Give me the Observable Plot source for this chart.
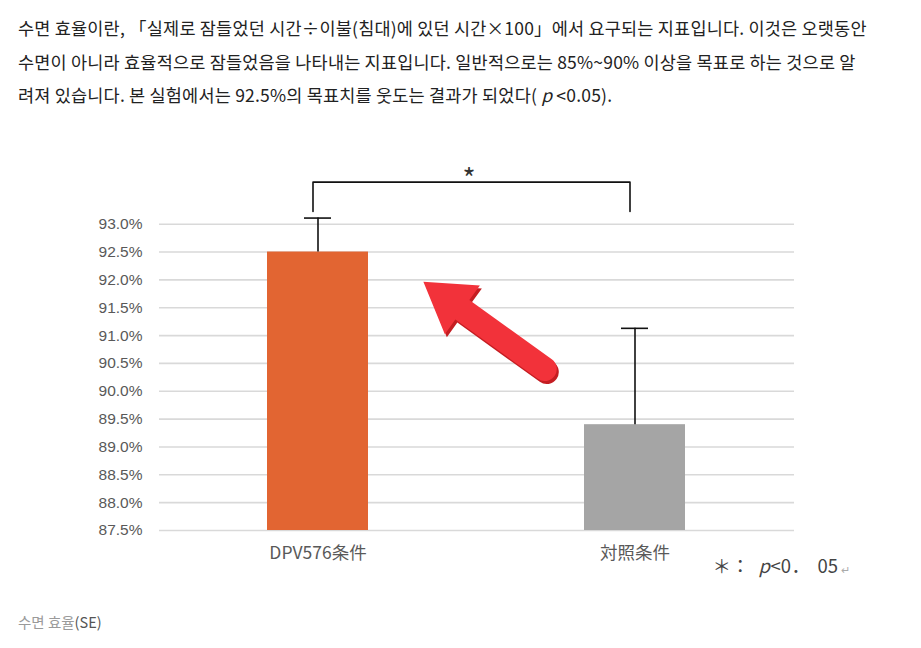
<!DOCTYPE html>
<html>
<head>
<meta charset="utf-8">
<script src="https://cdn.jsdelivr.net/npm/d3@7"></script>
<script src="https://cdn.jsdelivr.net/npm/@observablehq/plot@0.6"></script>
<style>
  html, body { margin: 0; padding: 0; background: #fff; width: 921px; height: 648px; overflow: hidden; }
  #title { position: absolute; left: 18px; top: 11px; font-family: "Noto Sans CJK KR", "Noto Sans", sans-serif; font-size: 17.5px; letter-spacing: 0.2px; line-height: 33.5px; color: #222; white-space: nowrap; }
  #chart { position: absolute; left: 0; top: 120px; }
  #caption { position: absolute; left: 18px; top: 611px; font-family: "Noto Sans CJK KR", "Noto Sans", sans-serif; font-size: 14.5px; color: #9a9a9a; }
  #caption span { color: #555; }
</style>
</head>
<body>
<div id="title">수면 효율이란, 「실제로 잠들었던 시간÷이불(침대)에 있던 시간×100」에서 요구되는 지표입니다. 이것은 오랫동안<br>수면이 아니라 효율적으로 잠들었음을 나타내는 지표입니다. 일반적으로는 85%~90% 이상을 목표로 하는 것으로 알<br>려져 있습니다. 본 실험에서는 92.5%의 목표치를 웃도는 결과가 되었다( <i>p</i> &lt;0.05).</div>
<div id="chart"></div>
<div id="caption">수면 효율<span>(SE)</span></div>
<script>
// ---- data ----
const conditions = ["DPV576条件", "対照条件"];
const efficiency = [92.5, 89.4];        // sleep efficiency (%)
const stdError = [0.61, 1.73];          // SE
const barColors = ["#e26532", "#a5a5a5"];
const yTicks = [87.5, 88.0, 88.5, 89.0, 89.5, 90.0, 90.5, 91.0, 91.5, 92.0, 92.5, 93.0];
const yBase = 87.5;
const yDomain = [87.5, 94.0];
// significance bracket (condition, value)
const bracketConds = ["DPV576条件", "DPV576条件", "対照条件", "対照条件"];
const bracketVals = [93.23, 93.755, 93.755, 93.23];
const starVal = 93.93;
// annotation arrow: tail and tip (condition, offset in band steps from centre, value)
const arrowTail = {cond: "対照条件", offset: -0.283, value: 90.39};
const arrowTip = {cond: "DPV576条件", offset: 0.334, value: 91.957};
// footnote pieces
const noteParts = ["＊：", "p", "<0", "．", "05", "↵"];

const data = conditions.map((c, i) => ({cond: c, value: efficiency[i], se: stdError[i], color: barColors[i]}));
const bracket = bracketConds.map((c, i) => ({cond: c, value: bracketVals[i]}));

const fontCJK = "'Noto Sans CJK JP', 'Noto Sans', sans-serif";

function arrowMark(index, scales, values, dimensions) {
  const x = scales.x, y = scales.y;
  const bw = x.bandwidth ? x.bandwidth() : 0;
  const step = x.step ? x.step() : bw;
  const px = (p) => x(p.cond) + bw / 2 + p.offset * step;
  const t = [px(arrowTail), y(arrowTail.value)];
  const h = [px(arrowTip), y(arrowTip.value)];
  const dx = h[0] - t[0], dy = h[1] - t[1];
  const len = Math.hypot(dx, dy);
  const u = [dx / len, dy / len];
  const n = [-u[1], u[0]];
  const hl = 48, hw = 30, sw = 12;
  const hb = [h[0] - u[0] * hl, h[1] - u[1] * hl];
  const P = (b, k) => `${b[0] + n[0] * k},${b[1] + n[1] * k}`;
  const d = `M${h[0]},${h[1]} L${P(hb, hw)} L${P(hb, sw)} L${P(t, sw)} A${sw},${sw} 0 0 1 ${P(t, -sw)} L${P(hb, -sw)} L${P(hb, -hw)} Z`;
  const g = document.createElementNS("http://www.w3.org/2000/svg", "g");
  const shadow = document.createElementNS("http://www.w3.org/2000/svg", "path");
  shadow.setAttribute("d", d);
  shadow.setAttribute("fill", "#c41d22");
  shadow.setAttribute("transform", "translate(2,3)");
  const main = document.createElementNS("http://www.w3.org/2000/svg", "path");
  main.setAttribute("d", d);
  main.setAttribute("fill", "#f2323a");
  g.appendChild(shadow);
  g.appendChild(main);
  return g;
}

const noteStyle = {frameAnchor: "bottom-right", dy: 42, textAnchor: "start", fontSize: 18.5, fill: "#444", text: d => d};

const chart = Plot.plot({
  width: 921,
  height: 480,
  marginLeft: 159,
  marginRight: 127,
  marginTop: 48,
  marginBottom: 70,
  style: {background: "transparent", fontFamily: fontCJK},
  x: {domain: conditions, paddingInner: 0.68, paddingOuter: 0.34, label: null},
  y: {domain: yDomain, label: null},
  marks: [
    Plot.gridY(yTicks, {stroke: "#d9d9d9", strokeOpacity: 1, strokeWidth: 1.6}),
    Plot.axisY(yTicks, {tickSize: 0, tickPadding: 17, fontSize: 15.5, fill: "#595959", tickFormat: d => d.toFixed(1) + "%", label: null, fontFamily: "'Liberation Sans', Arial, sans-serif"}),
    Plot.axisX({tickSize: 0, tickPadding: 16, fontSize: 17.5, fill: "#595959", label: null}),
    Plot.barY(data, {x: "cond", y1: yBase, y2: "value", fill: "color"}),
    Plot.ruleX(data, {x: "cond", y1: "value", y2: d => d.value + d.se, stroke: "#111", strokeWidth: 1.6}),
    Plot.tickY(data, {x: "cond", y: d => d.value + d.se, stroke: "#111", strokeWidth: 1.6, insetLeft: 37, insetRight: 37}),
    Plot.line(bracket, {x: "cond", y: "value", stroke: "#111", strokeWidth: 1.6, dx: -5}),
    Plot.text(["*"], {x: () => conditions[0], y: () => starVal, dx: 151, dy: 8, fontSize: 28, fill: "#333", text: d => d}),
    arrowMark,
    Plot.text([noteParts[0]], {...noteStyle, dx: -82}),
    Plot.text([noteParts[1]], {...noteStyle, dx: -36, fontStyle: "italic"}),
    Plot.text([noteParts[2]], {...noteStyle, dx: -24}),
    Plot.text([noteParts[3]], {...noteStyle, dx: -3}),
    Plot.text([noteParts[4]], {...noteStyle, dx: 23}),
    Plot.text([noteParts[5]], {...noteStyle, dx: 46, dy: 43, fontSize: 11, fill: "#aaa"})
  ]
});
document.getElementById("chart").appendChild(chart);
</script>
</body>
</html>
